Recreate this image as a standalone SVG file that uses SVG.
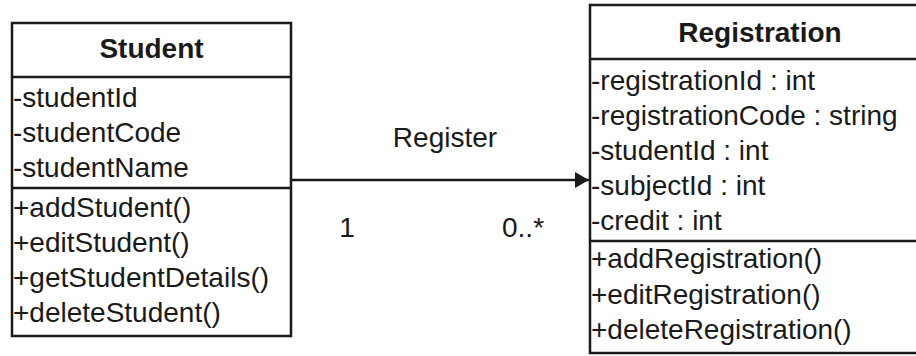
<svg xmlns="http://www.w3.org/2000/svg" width="916" height="356" viewBox="0 0 916 356">
<defs>
<style>
.box{fill:#fff;stroke:#1a1a1a;stroke-width:2.5}
.div{stroke:#1a1a1a;stroke-width:2.5}
.t{font-family:"Liberation Sans",Arial,sans-serif;font-size:28px;fill:#1a1a1a}
.b{font-weight:bold;text-anchor:middle}
.conn{stroke:#1a1a1a;stroke-width:2.5;fill:none}
</style>
<marker id="arr" markerWidth="14" markerHeight="16" refX="14" refY="8" orient="auto" markerUnits="userSpaceOnUse">
<path d="M0,0 L14,8 L0,16 Z" fill="#1a1a1a"/>
</marker>
</defs>
<rect width="916" height="356" fill="#fff"/>
<g id="connectors">
<line class="conn" x1="291" y1="180" x2="589" y2="180" marker-end="url(#arr)"/>
<text class="t" x="445" y="147" text-anchor="middle">Register</text>
<text class="t" x="347" y="237" text-anchor="middle">1</text>
<text class="t" x="502" y="237">0..*</text>
</g>
<g id="student">
<rect class="box" x="12" y="23" width="279" height="313"/>
<line class="div" x1="12" y1="77" x2="291" y2="77"/>
<line class="div" x1="12" y1="188" x2="291" y2="188"/>
<text class="t b" x="151.5" y="58">Student</text>
<text class="t" x="13" y="107">-studentId</text>
<text class="t" x="13" y="142">-studentCode</text>
<text class="t" x="13" y="177">-studentName</text>
<text class="t" x="13" y="217">+addStudent()</text>
<text class="t" x="13" y="252">+editStudent()</text>
<text class="t" x="13" y="287">+getStudentDetails()</text>
<text class="t" x="13" y="322">+deleteStudent()</text>
</g>
<g id="registration">
<rect class="box" x="590" y="5" width="345" height="348"/>
<line class="div" x1="590" y1="59" x2="935" y2="59"/>
<line class="div" x1="590" y1="241" x2="935" y2="241"/>
<text class="t b" x="760" y="42">Registration</text>
<text class="t" x="591" y="90">-registrationId : int</text>
<text class="t" x="591" y="125">-registrationCode : string</text>
<text class="t" x="591" y="160">-studentId : int</text>
<text class="t" x="591" y="195">-subjectId : int</text>
<text class="t" x="591" y="230">-credit : int</text>
<text class="t" x="591" y="268">+addRegistration()</text>
<text class="t" x="591" y="304">+editRegistration()</text>
<text class="t" x="591" y="339">+deleteRegistration()</text>
</g>
</svg>
